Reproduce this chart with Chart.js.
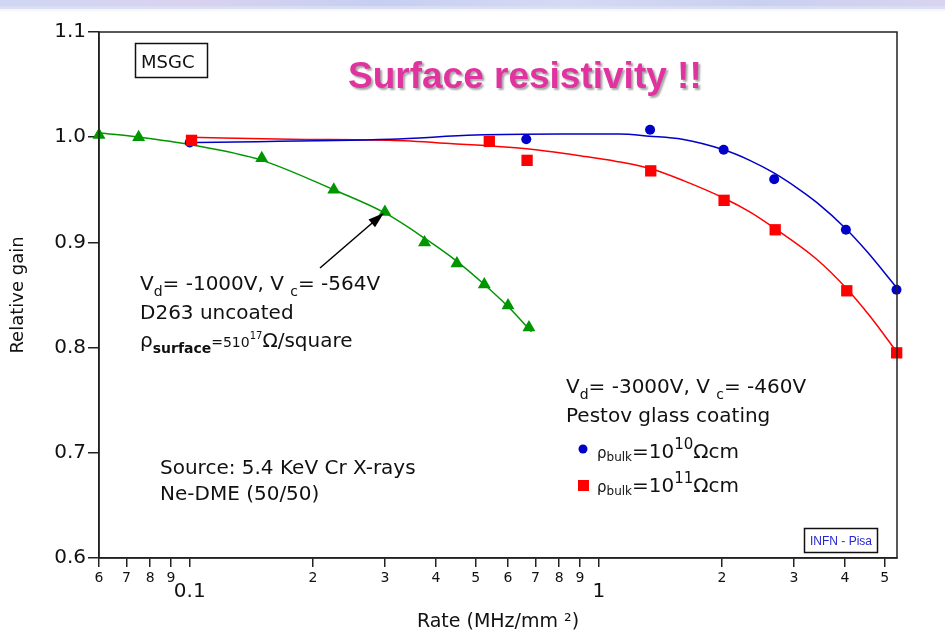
<!DOCTYPE html>
<html>
<head>
<meta charset="utf-8">
<script src="https://cdn.jsdelivr.net/npm/chart.js@4.4.1/dist/chart.umd.min.js"></script>
<style>
  html, body { margin: 0; padding: 0; background: #fff; }
  #wrap { position: relative; width: 945px; height: 634px; }
</style>
</head>
<body>
<div id="wrap"><canvas id="gainChart" width="945" height="634"></canvas></div>
<script>
// axis ticks
const xTicks = [0.06, 0.07, 0.08, 0.09, 0.1, 0.2, 0.3, 0.4, 0.5, 0.6, 0.7, 0.8, 0.9, 1, 2, 3, 4, 5];
const xTickLabels = ['6', '7', '8', '9', ['', '0.1'], '2', '3', '4', '5', '6', '7', '8', '9', ['', '1'], '2', '3', '4', '5'];
const yTicks = [0.6, 0.7, 0.8, 0.9, 1.0, 1.1];

// D263 uncoated (triangles) + fit
const uncoatedRate = [0.06, 0.075, 0.15, 0.225, 0.30, 0.375, 0.45, 0.525, 0.60, 0.675];
const uncoatedGain = [1.002, 1.000, 0.980, 0.950, 0.929, 0.900, 0.880, 0.860, 0.840, 0.819];
const uncoatedFitRate = [0.0605, 0.075, 0.1, 0.15, 0.225, 0.30, 0.375, 0.45, 0.525, 0.60, 0.685];
const uncoatedFitGain = [1.004, 1.000, 0.993, 0.978, 0.950, 0.928, 0.904, 0.882, 0.860, 0.839, 0.815];

// Pestov glass, rho_bulk = 1e10 (circles) + fit
const bulk10Rate = [0.1, 0.665, 1.335, 2.02, 2.685, 4.02, 5.345];
const bulk10Gain = [0.995, 0.998, 1.007, 0.988, 0.960, 0.912, 0.855];
const bulk10FitRate = [0.1, 0.31, 0.50, 0.80, 1.12, 1.33, 1.60, 2.02, 2.34, 2.68, 3.10, 3.41, 4.02, 4.51, 5.35];
const bulk10FitGain = [0.995, 0.998, 1.002, 1.003, 1.003, 1.001, 0.998, 0.988, 0.978, 0.966, 0.950, 0.938, 0.913, 0.892, 0.857];

// Pestov glass, rho_bulk = 1e11 (squares) + fit
const bulk11Rate = [0.101, 0.54, 0.668, 1.34, 2.025, 2.70, 4.04, 5.35];
const bulk11Gain = [0.997, 0.996, 0.978, 0.968, 0.940, 0.912, 0.854, 0.795];
const bulk11FitRate = [0.1, 0.176, 0.308, 0.432, 0.666, 0.914, 1.105, 1.34, 1.605, 2.025, 2.34, 2.70, 3.41, 4.04, 4.60, 5.35];
const bulk11FitGain = [1.0, 0.998, 0.997, 0.994, 0.989, 0.982, 0.977, 0.970, 0.959, 0.942, 0.929, 0.913, 0.884, 0.856, 0.830, 0.796];

const GREEN = '#009600';
const BLUE = '#0000c8';
const RED = '#ff0000';
const FONT = '"DejaVu Sans", "Liberation Sans", sans-serif';

const pts = (xs, ys) => xs.map((x, i) => ({ x: x, y: ys[i] }));

function drawRuns(ctx, x, y, runs, color) {
  let cx = x;
  ctx.fillStyle = color || '#111';
  ctx.textBaseline = 'alphabetic';
  ctx.textAlign = 'left';
  runs.forEach(([t, size, dy, weight]) => {
    ctx.font = (weight || 'normal') + ' ' + size + 'px ' + FONT;
    ctx.fillText(t, cx, y + (dy || 0));
    cx += ctx.measureText(t).width;
  });
}

const notes = {
  id: 'notes',
  beforeDraw(chart) {
    const ctx = chart.ctx;
    ctx.save();
    const g = ctx.createLinearGradient(0, 0, 945, 0);
    g.addColorStop(0, '#cfd6f3');
    g.addColorStop(0.2, '#d9d2ef');
    g.addColorStop(0.4, '#c6cff1');
    g.addColorStop(0.6, '#d6d9f4');
    g.addColorStop(0.8, '#c9d0ef');
    g.addColorStop(1, '#d8d4f0');
    ctx.fillStyle = g;
    ctx.fillRect(0, 0, 945, 9);
    const fade = ctx.createLinearGradient(0, 6, 0, 14);
    fade.addColorStop(0, 'rgba(214,220,244,0.9)');
    fade.addColorStop(1, 'rgba(255,255,255,0)');
    ctx.fillStyle = fade;
    ctx.fillRect(0, 6, 945, 8);
    ctx.restore();
  },
  afterDatasetsDraw(chart) {
    const { ctx, chartArea: a } = chart;
    ctx.save();
    ctx.strokeStyle = '#222';
    ctx.lineWidth = 1.5;
    ctx.strokeRect(a.left, a.top, a.right - a.left, a.bottom - a.top);
    ctx.restore();
  },
  afterDraw(chart) {
    const ctx = chart.ctx;
    const xs = chart.scales.x, ys = chart.scales.y;
    ctx.save();

    // MSGC box
    ctx.strokeStyle = '#111';
    ctx.lineWidth = 1.5;
    ctx.strokeRect(135.5, 43.5, 72, 34);
    drawRuns(ctx, 141, 68, [['MSGC', 18]]);

    // headline
    ctx.save();
    ctx.shadowColor = 'rgba(0,0,0,0.35)';
    ctx.shadowOffsetX = 2;
    ctx.shadowOffsetY = 2;
    ctx.shadowBlur = 2;
    ctx.fillStyle = '#e0339f';
    ctx.font = 'bold 37px "Liberation Sans", Arial, sans-serif';
    ctx.fillText('Surface resistivity !!', 348, 88);
    ctx.restore();

    // uncoated annotation
    drawRuns(ctx, 140, 290, [['V', 20], ['d', 14, 6], ['= -1000V, V ', 20], ['c', 14, 6], ['= -564V', 20]]);
    drawRuns(ctx, 140, 319, [['D263 uncoated', 20]]);
    drawRuns(ctx, 140, 347, [['ρ', 20], ['surface', 14, 6, 'bold'], ['=510', 14], ['17', 10, -8], ['Ω/square', 20]]);

    // arrow to the 0.3 point
    const tipX = xs.getPixelForValue(0.30) - 1, tipY = ys.getPixelForValue(0.929) + 1;
    const tailX = 320, tailY = 268;
    const ang = Math.atan2(tipY - tailY, tipX - tailX);
    ctx.strokeStyle = '#000';
    ctx.fillStyle = '#000';
    ctx.lineWidth = 1.5;
    ctx.beginPath();
    ctx.moveTo(tailX, tailY);
    ctx.lineTo(tipX - 12 * Math.cos(ang), tipY - 12 * Math.sin(ang));
    ctx.stroke();
    ctx.beginPath();
    ctx.moveTo(tipX, tipY);
    ctx.lineTo(tipX - 16 * Math.cos(ang) + 5 * Math.sin(ang), tipY - 16 * Math.sin(ang) - 5 * Math.cos(ang));
    ctx.lineTo(tipX - 16 * Math.cos(ang) - 5 * Math.sin(ang), tipY - 16 * Math.sin(ang) + 5 * Math.cos(ang));
    ctx.closePath();
    ctx.fill();

    // Pestov annotation and legend
    drawRuns(ctx, 566, 393, [['V', 20], ['d', 14, 6], ['= -3000V, V ', 20], ['c', 14, 6], ['= -460V', 20]]);
    drawRuns(ctx, 566, 422, [['Pestov glass coating', 20]]);
    ctx.fillStyle = BLUE;
    ctx.beginPath();
    ctx.arc(583, 449, 4.5, 0, Math.PI * 2);
    ctx.fill();
    drawRuns(ctx, 597, 458, [['ρ', 15], ['bulk', 12, 3], ['=10', 20], ['10', 15, -9], ['Ωcm', 20]]);
    ctx.fillStyle = RED;
    ctx.fillRect(578, 480, 11, 11);
    drawRuns(ctx, 597, 492, [['ρ', 15], ['bulk', 12, 3], ['=10', 20], ['11', 15, -9], ['Ωcm', 20]]);

    // source
    drawRuns(ctx, 160, 474, [['Source: 5.4 KeV Cr X-rays', 20]]);
    drawRuns(ctx, 160, 500, [['Ne-DME (50/50)', 20]]);

    // INFN box
    ctx.strokeStyle = '#111';
    ctx.lineWidth = 1.5;
    ctx.strokeRect(804.5, 528.5, 73, 24);
    ctx.fillStyle = '#2626d0';
    ctx.font = '12px "Liberation Sans", Arial, sans-serif';
    ctx.fillText('INFN - Pisa', 810, 545);

    ctx.restore();
  }
};

const ctx = document.getElementById('gainChart').getContext('2d');
const gainChart = new Chart(ctx, {
  type: 'scatter',
  data: {
    datasets: [
      { data: pts(uncoatedFitRate, uncoatedFitGain), showLine: true, borderColor: GREEN, borderWidth: 1.5,
        pointRadius: 0, cubicInterpolationMode: 'monotone', order: 2 },
      { data: pts(bulk10FitRate, bulk10FitGain), showLine: true, borderColor: BLUE, borderWidth: 1.5,
        pointRadius: 0, cubicInterpolationMode: 'monotone', order: 2 },
      { data: pts(bulk11FitRate, bulk11FitGain), showLine: true, borderColor: RED, borderWidth: 1.5,
        pointRadius: 0, cubicInterpolationMode: 'monotone', order: 2 },
      { data: pts(uncoatedRate, uncoatedGain), pointStyle: 'triangle', pointRadius: 7.5,
        backgroundColor: GREEN, borderColor: GREEN, borderWidth: 0, clip: 12, order: 1 },
      { data: pts(bulk10Rate, bulk10Gain), pointStyle: 'circle', pointRadius: 5,
        backgroundColor: BLUE, borderColor: BLUE, borderWidth: 0, clip: 12, order: 1 },
      { data: pts(bulk11Rate, bulk11Gain), pointStyle: 'rect', pointRadius: 8,
        backgroundColor: RED, borderColor: RED, borderWidth: 0, clip: 12, order: 0 }
    ]
  },
  options: {
    responsive: false,
    animation: false,
    devicePixelRatio: 1,
    layout: { padding: { left: 0, right: 48, top: 32, bottom: 0 } },
    plugins: { legend: { display: false }, tooltip: { enabled: false } },
    scales: {
      x: {
        type: 'logarithmic',
        min: 0.06,
        max: 5.36,
        afterBuildTicks: s => { s.ticks = xTicks.map(v => ({ value: v })); },
        afterFit: s => { s.height = 76; s.paddingLeft = 0; s.paddingRight = 0; },
        grid: { drawOnChartArea: false, drawTicks: true, tickLength: 9, color: '#222', lineWidth: 1.5 },
        border: { display: true, color: '#222', width: 1.5 },
        ticks: {
          autoSkip: false, maxRotation: 0, minRotation: 0, padding: 3, color: '#111',
          font: c => (Array.isArray(xTickLabels[c.index])
            ? { family: FONT, size: 20, lineHeight: 0.74 }
            : { family: FONT, size: 14, lineHeight: 1.2 }),
          callback: (v, i) => xTickLabels[i]
        },
        title: { display: true, text: 'Rate (MHz/mm ²)', color: '#111',
          font: { family: FONT, size: 19 }, padding: { top: 0, bottom: 1 } }
      },
      y: {
        min: 0.6,
        max: 1.1,
        afterBuildTicks: s => { s.ticks = yTicks.map(v => ({ value: v })); },
        afterFit: s => { s.width = 99; s.paddingTop = 0; s.paddingBottom = 0; },
        grid: { drawOnChartArea: false, drawTicks: true, tickLength: 11, color: '#222', lineWidth: 1.5 },
        border: { display: true, color: '#222', width: 1.5 },
        ticks: { padding: 2, color: '#111', font: { family: FONT, size: 20 },
          callback: v => v.toFixed(1) },
        title: { display: true, text: 'Relative gain', color: '#111',
          font: { family: FONT, size: 18 }, padding: { top: 8, bottom: 0 } }
      }
    }
  },
  plugins: [notes]
});
</script>
</body>
</html>
